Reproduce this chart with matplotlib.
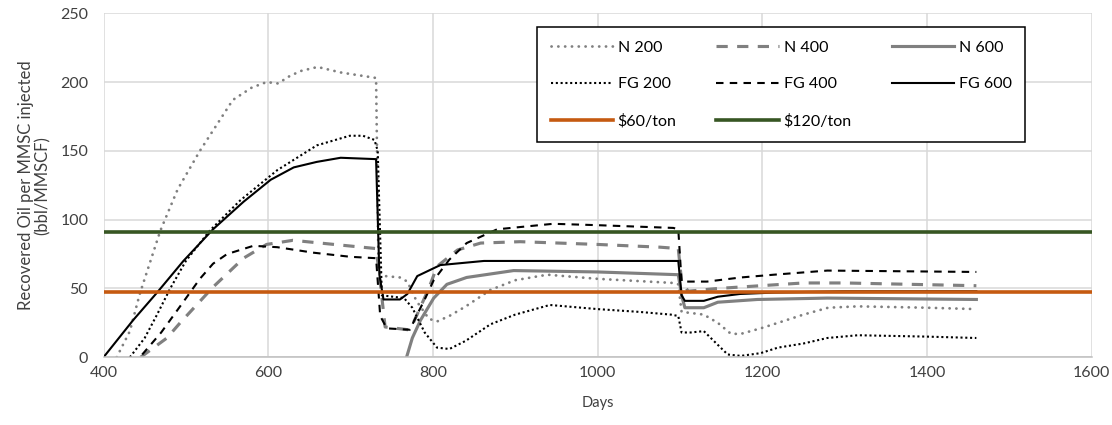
#!/usr/bin/env python
"""Recovered oil per MMSCF injected for nitrogen and flue gas cases."""

from __future__ import annotations

import matplotlib

matplotlib.use("Agg")
import matplotlib.pyplot as plt

# N 200 (nitrogen, 200 case)
n200_days = [416, 432, 444, 469, 490, 517, 557, 580, 598, 612, 625, 639, 660, 688, 731,
             734, 742, 760, 769, 780, 795, 805, 820, 840, 870, 900, 939, 1000, 1092, 1098,
             1102, 1129, 1146, 1162, 1174, 1198, 1219, 1250, 1280, 1316, 1400, 1460]
n200_vals = [0, 19, 46, 92, 122, 150, 187, 196, 200, 199, 204, 208, 211, 207, 203,
             62, 59, 58, 55, 41, 28, 26, 30, 37, 49, 56, 60, 57, 54, 53,
             33, 31, 25, 17, 17, 21, 25, 31, 36, 37, 36, 35]

# N 400
n400_days = [445, 477, 493, 533, 570, 598, 630, 680, 731, 735, 742, 770, 777, 795, 805,
             830, 858, 906, 1000, 1076, 1098, 1102, 1110, 1146, 1198, 1250, 1300, 1460]
n400_vals = [0, 14, 25, 51, 72, 82, 85, 82, 79, 60, 22, 20, 26, 50, 66,
             78, 83, 84, 82, 80, 79, 55, 48, 50, 52, 54, 54, 52]

# N 600
n600_days = [766, 775, 785, 801, 817, 841, 898, 1000, 1098, 1102, 1106, 1129, 1146, 1194,
             1279, 1460]
n600_vals = [-4, 14, 27, 43, 53, 58, 63, 62, 60, 45, 36, 36, 40, 42, 43, 42]

# FG 200 (flue gas, 200 case)
fg200_days = [432, 450, 465, 481, 500, 529, 566, 611, 659, 699, 715, 729, 733, 738, 765,
              775, 790, 805, 820, 840, 870, 900, 942, 1000, 1050, 1089, 1098, 1102, 1113,
              1129, 1146, 1158, 1174, 1198, 1219, 1250, 1279, 1316, 1400, 1460]
fg200_vals = [0, 14, 31, 50, 70, 92, 114, 136, 154, 161, 161, 158, 150, 45, 43,
              36, 18, 7, 6, 12, 24, 31, 38, 35, 33, 31, 30, 18, 18,
              19, 9, 2, 1, 3, 7, 10, 14, 16, 15, 14]

# FG 400
fg400_days = [447, 470, 493, 505, 517, 533, 550, 582, 611, 655, 700, 731, 736, 744, 772,
              780, 790, 801, 820, 841, 878, 946, 1000, 1092, 1098, 1102, 1133, 1174, 1214,
              1279, 1460]
fg400_vals = [2, 18, 37, 47, 57, 68, 75, 81, 80, 76, 73, 72, 30, 21, 20,
              30, 42, 56, 71, 83, 93, 97, 96, 94, 93, 55, 55, 58, 60, 63, 62]

# FG 600
fg600_days = [400, 436, 465, 497, 533, 570, 603, 631, 659, 688, 731, 735, 740, 760, 769,
              781, 809, 862, 900, 1000, 1098, 1102, 1106, 1129, 1146, 1173, 1214, 1300, 1460]
fg600_vals = [0, 27, 47, 70, 93, 113, 129, 138, 142, 145, 144, 60, 42, 42, 46,
              59, 67, 70, 70, 70, 70, 45, 41, 41, 44, 46, 47, 48, 48]

# break-even lines at two CO2 prices
price_60 = 47.5
price_120 = 91

GREY = "#808080"
ORANGE = "#C55A11"
GREEN = "#375623"


def main() -> None:
    plt.rcParams["font.family"] = ["Lato", "DejaVu Sans"]
    plt.rcParams["font.size"] = 11

    fig = plt.figure(figsize=(11.12, 4.25), dpi=100)
    ax = fig.add_axes([0.0931, 0.1594, 0.8886, 0.8093])

    ax.plot(n200_days, n200_vals, color=GREY, lw=2.0, ls=(0, (0.05, 2.4)),
            dash_capstyle="round", label="N 200")
    ax.plot(n400_days, n400_vals, color=GREY, lw=2.25, ls=(0, (3.6, 3.0)), label="N 400")
    ax.plot(n600_days, n600_vals, color=GREY, lw=2.25, label="N 600")
    ax.plot(fg200_days, fg200_vals, color="black", lw=1.5, ls=(0, (1.0, 1.3)), label="FG 200")
    ax.plot(fg400_days, fg400_vals, color="black", lw=1.5, ls=(0, (3.6, 3.0)), label="FG 400")
    ax.plot(fg600_days, fg600_vals, color="black", lw=1.5, label="FG 600")
    ax.axhline(price_60, color=ORANGE, lw=2.6, label="$60/ton")
    ax.axhline(price_120, color=GREEN, lw=2.6, label="$120/ton")

    ax.set_xlim(400, 1600)
    ax.set_ylim(0, 250)
    ax.set_xticks(range(400, 1601, 200))
    ax.set_yticks(range(0, 251, 50))
    ax.grid(True, color="#d9d9d9", lw=1.1)
    ax.set_axisbelow(True)
    for side in ("top", "right", "left"):
        ax.spines[side].set_visible(False)
    ax.spines["bottom"].set_color("#bfbfbf")
    ax.spines["bottom"].set_linewidth(1.1)
    ax.tick_params(axis="both", length=0, colors="#404040", labelsize=11.5)
    ax.tick_params(axis="y", pad=11)
    ax.tick_params(axis="x", pad=6)

    ax.set_xlabel("Days", color="#404040", fontsize=10.5, labelpad=12)
    ax.set_ylabel("Recovered Oil per MMSC injected\n(bbl/MMSCF)", color="#404040",
                  fontsize=12, labelpad=7, linespacing=1.0)

    handles, labels = ax.get_legend_handles_labels()
    order = [0, 3, 6, 1, 4, 7, 2, 5]
    leg = fig.legend([handles[i] for i in order], [labels[i] for i in order],
                     ncol=3, loc="upper left", bbox_to_anchor=(537 / 1112, 1 - 27 / 425),
                     frameon=True, fancybox=False, edgecolor="black", framealpha=1,
                     handlelength=3.9, handletextpad=0.3, columnspacing=2.5,
                     labelspacing=1.4, borderpad=0.85, fontsize=11.5, borderaxespad=0)
    leg.get_frame().set_linewidth(1.1)

    fig.savefig("out.png", dpi=100)
    plt.close(fig)


if __name__ == "__main__":
    main()
